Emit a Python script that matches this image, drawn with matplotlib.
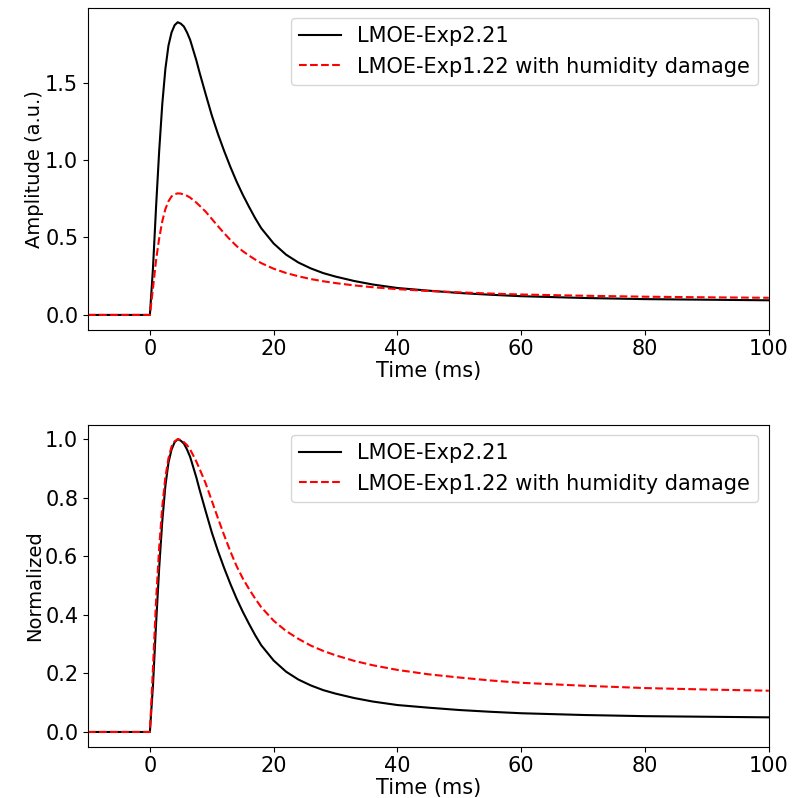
import matplotlib
matplotlib.use("Agg")
import matplotlib.pyplot as plt
import numpy as np

# time axis (ms) and normalized pulse shapes
time_ms = [-10, 0, 0.5, 1, 1.5, 2, 2.5, 3, 3.5, 4, 4.5, 5, 5.5, 6, 6.5, 7,
           7.5, 8, 9, 10, 11, 12, 13, 14, 15, 16, 17, 18, 20, 22, 24, 26, 28,
           30, 33, 36, 40, 45, 50, 55, 60, 70, 80, 90, 100]

norm_exp221 = [0, 0, 0.16, 0.37, 0.56, 0.72, 0.84, 0.92, 0.965, 0.99, 1.0,
               0.995, 0.985, 0.965, 0.94, 0.905, 0.87, 0.83, 0.755, 0.682,
               0.618, 0.56, 0.506, 0.456, 0.411, 0.37, 0.331, 0.296, 0.244,
               0.206, 0.179, 0.159, 0.143, 0.131, 0.116, 0.104, 0.092, 0.083,
               0.075, 0.069, 0.064, 0.058, 0.054, 0.052, 0.05]

norm_exp122 = [0, 0, 0.22, 0.45, 0.63, 0.77, 0.87, 0.935, 0.975, 0.993, 1.0,
               0.998, 0.99, 0.98, 0.965, 0.945, 0.924, 0.9, 0.85, 0.79, 0.73,
               0.672, 0.617, 0.567, 0.525, 0.489, 0.456, 0.426, 0.38, 0.345,
               0.318, 0.295, 0.277, 0.262, 0.243, 0.228, 0.212, 0.197, 0.186,
               0.176, 0.168, 0.158, 0.15, 0.145, 0.141]

# peak amplitudes in the upper panel (a.u.)
peak_exp221 = 1.89
peak_exp122 = 0.785

label_a = "LMOE-Exp2.21"
label_b = "LMOE-Exp1.22 with humidity damage"

plt.rcParams['font.size'] = 15

fig = plt.figure(figsize=(8, 7.98), dpi=100)
ax1 = fig.add_axes([0.11, 0.587, 0.851, 0.4035])
ax2 = fig.add_axes([0.11, 0.0644, 0.851, 0.4035])

t = np.array(time_ms)
a = np.array(norm_exp221)
b = np.array(norm_exp122)

ax1.plot(t, a * peak_exp221, color='k', lw=1.5, label=label_a)
ax1.plot(t, b * peak_exp122, color='r', ls='--', lw=1.5, label=label_b)
ax1.set_xlim(-10, 100)
ax1.set_xlabel('Time (ms)', labelpad=1)
ax1.set_ylabel('Amplitude (a.u.)', fontsize=14, labelpad=1)
ax1.legend(loc='upper right')

ax2.plot(t, a, color='k', lw=1.5, label=label_a)
ax2.plot(t, b, color='r', ls='--', lw=1.5, label=label_b)
ax2.set_xlim(-10, 100)
ax2.set_xlabel('Time (ms)', labelpad=1)
ax2.set_ylabel('Normalized', fontsize=14, labelpad=1)
ax2.legend(loc='upper right')

fig.savefig('out.png', dpi=100)
